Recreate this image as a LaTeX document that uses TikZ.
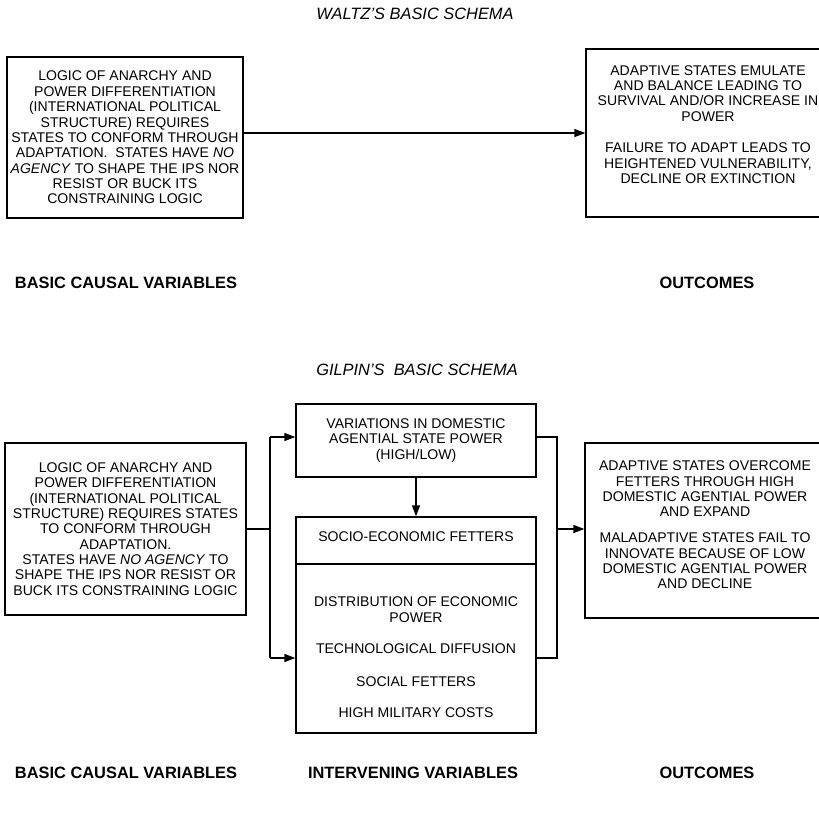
\documentclass[tikz,border=0pt]{standalone}
\usepackage{fontspec}
\setmainfont{Liberation Sans}
\usepackage{tikz}
\usetikzlibrary{arrows.meta, positioning, calc}
\newcommand{\boxfont}{\fontsize{12}{13.1}\selectfont}
\tikzstyle{box} = [rectangle, draw, line width=1.1pt, inner sep=0pt, align=center, font=\boxfont]
\tikzstyle{boxtext} = [align=center, inner sep=0pt, font=\boxfont]
\tikzstyle{heading} = [inner sep=0pt, font=\fontsize{14}{16}\selectfont\bfseries]
\tikzstyle{schema} = [inner sep=0pt, font=\fontsize{14}{16}\selectfont\itshape]
\tikzstyle{line} = [line width=1.1pt]
\tikzstyle{arrow} = [line width=1.1pt, -{Triangle[length=3.3mm, width=2.4mm]}]

\begin{document}
\begin{tikzpicture}[x=0.3mm, y=-0.3mm]
    \useasboundingbox (0,0) rectangle (819,813);

    % Waltz
    \node[schema] (wtitle) at (415,14) {WALTZ'S BASIC SCHEMA};
    \node[box, minimum width=70.8mm, minimum height=48.3mm] (wl) at (125,137.5) {
        LOGIC OF ANARCHY AND\\POWER DIFFERENTIATION\\(INTERNATIONAL POLITICAL\\STRUCTURE) REQUIRES\\STATES TO CONFORM THROUGH\\ADAPTATION.\ \ STATES HAVE \textit{NO}\\\textit{AGENCY} TO SHAPE THE IPS NOR\\RESIST OR BUCK ITS\\CONSTRAINING LOGIC
    };
    \node[box, minimum width=73.2mm, minimum height=50.4mm] (wr) at (708,133) {};
    \node[boxtext] (wrtext) at (708,124.5) {
        ADAPTIVE STATES EMULATE\\AND BALANCE LEADING TO\\SURVIVAL AND/OR INCREASE IN\\POWER\\[14pt]FAILURE TO ADAPT LEADS TO\\HEIGHTENED VULNERABILITY,\\DECLINE OR EXTINCTION
    };
    \draw[arrow] (wl.east |- wr.west) -- (wr.west);

    \node[heading] (wcause) at (126,283) {BASIC CAUSAL VARIABLES};
    \node[heading] (wout) at (707,283) {OUTCOMES};

    % Gilpin
    \node[schema] (gtitle) at (417,370) {GILPIN'S\ \ BASIC SCHEMA};
    \node[box, minimum width=72.3mm, minimum height=51.6mm] (gl) at (125.5,529) {
        LOGIC OF ANARCHY AND\\POWER DIFFERENTIATION\\(INTERNATIONAL POLITICAL\\STRUCTURE) REQUIRES STATES\\TO CONFORM THROUGH\\ADAPTATION.\\STATES HAVE \textit{NO AGENCY} TO\\SHAPE THE IPS NOR RESIST OR\\BUCK ITS CONSTRAINING LOGIC
    };
    \node[box, minimum width=72mm, minimum height=21.9mm] (gt) at (416,440.5) {
        VARIATIONS IN DOMESTIC\\AGENTIAL STATE POWER\\(HIGH/LOW)
    };
    \node[box, minimum width=72mm, minimum height=64.8mm] (gb) at (416,625) {};
    \coordinate (div) at (416,564);
    \draw[line] (div -| gb.west) -- (div -| gb.east);
    \node[boxtext] (fetters) at (416,537) {SOCIO-ECONOMIC FETTERS};
    \node[boxtext] (econ) at (416,609.5) {DISTRIBUTION OF ECONOMIC\\POWER};
    \node[boxtext] (tech) at (416,649) {TECHNOLOGICAL DIFFUSION};
    \node[boxtext] (social) at (416,682) {SOCIAL FETTERS};
    \node[boxtext] (military) at (416,713) {HIGH MILITARY COSTS};
    \node[box, minimum width=72mm, minimum height=52.5mm] (gr) at (705,530.5) {};
    \node[boxtext] (grtext) at (705,525) {
        ADAPTIVE STATES OVERCOME\\FETTERS THROUGH HIGH\\DOMESTIC AGENTIAL POWER\\AND EXPAND\\[9pt]MALADAPTIVE STATES FAIL TO\\INNOVATE BECAUSE OF LOW\\DOMESTIC AGENTIAL POWER\\AND DECLINE
    };

    % connectors
    \coordinate (jlt) at (270,437);
    \coordinate (jlb) at (270,658);
    \coordinate (jr) at (557,529);
    \draw[line] (gl.east) -- (gl.east -| jlt);
    \draw[line] (jlt) -- (jlb);
    \draw[arrow] (jlt) -- (jlt -| gt.west);
    \draw[arrow] (jlb) -- (jlb -| gb.west);
    \draw[arrow] (gt.south) -- (gb.north);
    \draw[line] (jlt -| gt.east) -- (jlt -| jr) -- (jlb -| jr) -- (jlb -| gb.east);
    \draw[arrow] (jr) -- (jr -| gr.west);

    \node[heading] (gcause) at (126,773) {BASIC CAUSAL VARIABLES};
    \node[heading] (ginter) at (413,773) {INTERVENING VARIABLES};
    \node[heading] (gout) at (707,773) {OUTCOMES};
\end{tikzpicture}
\end{document}
